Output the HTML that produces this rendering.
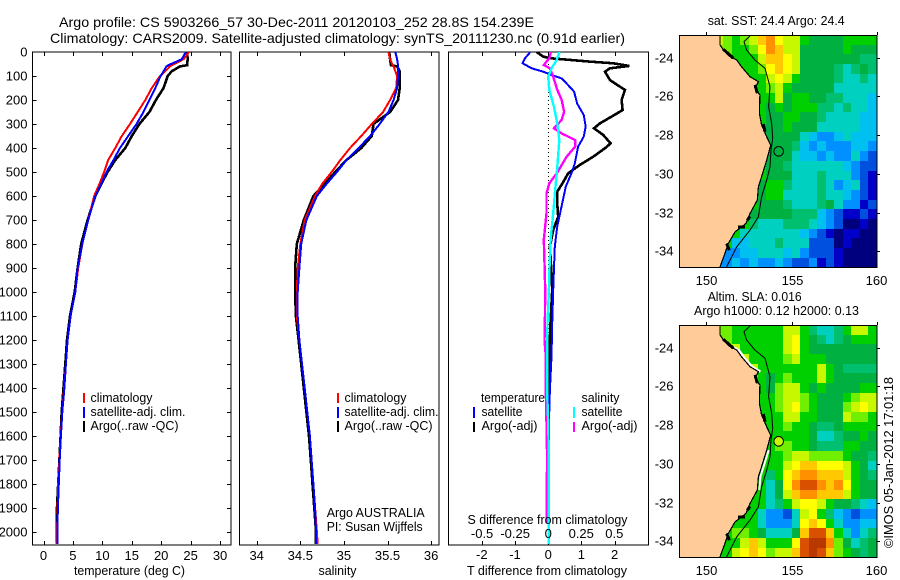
<!DOCTYPE html>
<html>
<head>
<meta charset="utf-8">
<title>Argo profile</title>
<style>
html,body{margin:0;padding:0;background:#fff;}
svg{display:block;}
text{font-family:"Liberation Sans",sans-serif;font-size:13px;fill:#000;}
</style>
</head>
<body>
<svg id="chart" width="900" height="580" viewBox="0 0 900 580" xmlns="http://www.w3.org/2000/svg"></svg>
<script>
const profileDepths = [0,30,55,60,80,100,150,200,250,300,350,400,450,500,550,600,700,800,900,1000,1100,1200,1300,1400,1500,1600,1700,1800,1900,2000,2050];
const tempClim = [24.7,23.8,21.8,21.5,20.7,19.8,18.4,17.3,16.0,14.7,13.3,12.2,11.0,10.3,9.5,8.6,7.6,6.6,5.9,5.4,4.6,4.1,3.8,3.5,3.2,2.9,2.7,2.5,2.4,2.3,2.25];
const tempSat = [24.2,23.5,21.2,20.9,20.4,19.9,19.0,18.0,17.0,15.8,14.4,13.0,11.9,10.7,9.8,8.8,7.6,6.6,5.8,5.4,4.6,4.1,3.8,3.55,3.2,2.95,2.75,2.6,2.45,2.35,2.35];
const tempArgo = [24.4,24.5,24.4,23.2,21.8,21.1,20.4,19.1,18.0,16.3,15.0,13.9,12.2,10.9,9.8,8.8,7.5,6.4,5.8,5.3,4.5,4.0,3.7,3.4,3.1,2.9,2.7,2.5,2.3,2.3,2.3];
const salClim = [35.51,35.53,35.56,35.57,35.59,35.61,35.60,35.53,35.45,35.32,35.20,35.07,34.96,34.86,34.75,34.67,34.55,34.50,34.47,34.46,34.46,34.49,34.52,34.55,34.58,34.61,34.63,34.65,34.67,34.69,34.70];
const salSat = [35.59,35.61,35.62,35.62,35.62,35.62,35.61,35.57,35.51,35.41,35.30,35.17,35.03,34.92,34.80,34.69,34.57,34.51,34.49,34.47,34.47,34.49,34.52,34.55,34.58,34.61,34.63,34.65,34.67,34.68,34.68];
const salArgo = [35.52,35.53,35.54,35.61,35.64,35.64,35.64,35.62,35.53,35.34,35.32,35.20,35.03,34.90,34.78,34.65,34.54,34.46,34.44,34.44,34.45,34.48,34.51,34.54,34.57,34.60,34.62,34.64,34.66,34.68,34.68];

const tSatDepths = [0,6,26,47,68,82,96,110,131,165,214,262,311,353,394,464,506,561,644,728,811,922,992,1131,1269,1408,1547,1964,2050];
const tSatDiff = [-0.55,-0.57,-0.70,-0.77,-0.50,-0.15,0.10,0.40,0.55,0.78,0.87,1.07,1.13,1.07,0.90,0.80,0.70,0.53,0.40,0.27,0.20,0.17,0.15,0.12,0.10,0.05,0.02,0.03,0.03];
const tArgoDepths = [0,19,26,40,47,58,68,82,117,158,200,242,269,297,318,346,381,401,436,471,506,547,582,631,686,742,811,922,992,1131,1269,1408,1547,1964];
const tArgoDiff = [-0.35,-0.15,0.05,1.25,1.96,2.44,1.86,1.71,1.86,2.31,2.21,2.24,1.91,1.56,1.38,1.66,1.88,1.71,1.36,0.95,0.60,0.43,0.27,0.27,0.30,0.15,0.05,0.10,0.12,0.07,0.03,0.03,0.01,0.01];
const sSatDepths = [0,6,33,68,103,158,228,297,367,478,589,672,783,922,992,1131,1269,1408,1547,1686,1964,2050];
const sSatDiff = [0.085,0.082,0.064,0.026,0,0.008,0.043,0.069,0.084,0.069,0.051,0.038,0.018,0.008,0.005,-0.005,-0.008,-0.008,0,0.005,0.003,0.003];
const sArgoDepths = [0,6,26,54,68,103,158,200,249,283,318,339,367,394,436,506,547,589,672,783,922,992,1131,1200,1269,1408,1547,1686,1964];
const sArgoDiff = [0.02,0.018,0.008,-0.033,0.013,0.038,0.069,0.102,0.12,0.102,0.043,0.102,0.204,0.204,0.14,0.064,0.008,-0.013,-0.013,-0.033,-0.026,-0.023,-0.025,-0.028,-0.018,-0.018,-0.013,-0.008,-0.013];

const depthTicks = [0,100,200,300,400,500,600,700,800,900,1000,1100,1200,1300,1400,1500,1600,1700,1800,1900,2000];
const tempTicks = [0,5,10,15,20,25,30];
const salTicks = [34,34.5,35,35.5,36];
const tDiffTicks = [-2,-1,0,1,2];
const sDiffTicks = [-0.5,-0.25,0,0.25,0.5];
const lonTicks = [150,155,160];
const latTicks = [-24,-26,-28,-30,-32,-34];

const sstLevels = [
[10,9,8,9,10,12,13,11,10,10,8,7,7,7,7,8,8,8,8],
[9,9,8,8,9,11,13,12,10,10,7,7,7,7,7,8,7,7,7],
[8,8,8,8,8,10,12,12,11,10,7,7,7,7,7,7,7,6,6],
[8,8,8,8,8,9,11,12,11,10,7,7,7,7,6,5,6,7,6],
[8,8,8,8,8,8,10,11,10,8,7,7,7,7,6,5,5,6,5],
[8,8,8,8,8,8,9,10,8,7,7,7,7,7,5,5,5,5,5],
[8,8,8,8,8,8,8,10,7,8,8,7,7,6,6,5,5,5,4],
[8,8,8,8,8,8,7,8,7,8,8,8,6,6,5,6,5,5,4],
[8,8,8,8,8,8,7,7,8,8,7,7,6,5,5,5,5,4,4],
[8,8,8,8,8,8,7,7,8,7,7,7,5,5,5,5,5,4,4],
[8,8,8,8,8,8,7,7,7,7,5,4,3,3,4,5,4,4,4],
[8,8,8,8,8,8,7,7,7,6,4,3,4,3,3,3,4,4,3],
[8,8,8,8,8,8,7,7,7,5,4,4,3,4,3,3,5,3,2],
[8,8,8,8,8,8,7,7,6,5,5,5,5,5,5,4,3,2,2],
[8,8,8,8,8,8,7,7,7,5,5,5,6,5,5,5,3,2,1],
[8,8,8,8,8,7,8,8,6,5,5,5,6,5,3,4,5,2,1],
[8,8,8,8,8,7,8,8,5,5,5,5,6,5,5,4,3,2,1],
[8,8,8,8,8,7,7,7,6,5,5,5,6,7,5,3,3,1,2],
[8,8,8,8,7,7,7,7,7,6,6,6,4,3,2,1,1,2,1],
[8,8,8,8,6,5,5,5,6,6,6,5,4,3,2,0,0,1,0],
[8,8,8,5,5,5,5,5,5,5,4,3,2,1,0,1,1,0,0],
[8,8,4,4,5,5,5,6,5,5,5,2,2,2,0,1,0,0,0],
[8,3,3,4,4,5,5,5,4,5,3,2,2,2,1,0,0,0,0],
[3,3,4,3,4,3,3,4,3,2,2,3,1,2,1,0,0,0,0]
];
const slaLevels = [
[9,9,8,8,8,8,8,8,10,10,8,6,5,5,6,8,10,10,8],
[9,9,8,8,8,8,8,8,10,11,8,7,6,5,6,7,8,8,8],
[9,9,10,8,8,8,8,8,10,11,8,7,7,7,7,7,7,7,7],
[9,9,10,10,8,8,8,8,9,10,8,8,8,7,7,7,7,7,7],
[9,9,10,10,10,8,8,8,8,8,8,8,10,8,7,6,6,6,6],
[9,9,9,9,9,8,7,8,9,8,8,8,10,8,7,7,7,7,7],
[8,8,8,8,8,8,7,9,10,10,8,7,8,7,7,7,7,8,8],
[8,8,8,8,8,8,8,9,10,10,9,8,7,7,7,8,9,10,10],
[8,8,8,8,8,8,8,9,10,11,9,8,7,7,7,9,10,11,10],
[8,8,8,8,8,8,8,8,10,10,8,8,7,7,7,10,9,9,8],
[8,8,8,8,8,8,8,8,9,8,8,7,6,6,7,8,8,8,8],
[8,8,8,8,8,8,8,8,8,8,8,7,5,5,6,7,7,8,7],
[8,8,8,8,8,8,8,9,9,8,8,7,6,6,6,8,8,7,7],
[8,8,8,8,8,8,8,8,9,10,10,9,9,9,9,8,7,7,6],
[8,8,8,8,8,8,8,8,10,11,12,12,11,11,11,10,8,7,5],
[8,8,8,8,7,8,6,8,11,12,13,13,12,12,12,10,8,7,6],
[8,8,8,8,7,8,5,7,11,13,14,14,13,12,13,11,8,7,7],
[8,8,8,8,8,8,5,7,10,12,13,13,12,12,12,10,8,7,7],
[8,8,8,8,8,8,5,6,8,10,11,11,10,8,7,7,6,5,4],
[8,8,8,8,8,5,3,3,2,5,10,11,8,6,4,3,2,3,3],
[8,8,8,8,8,5,3,3,3,5,11,12,11,8,5,3,3,4,4],
[8,8,9,9,8,7,5,5,5,7,12,14,14,12,8,5,3,5,6],
[8,8,8,10,12,10,8,8,8,11,14,15,15,13,9,7,5,6,7],
[8,8,10,11,12,11,9,10,10,12,14,15,14,12,9,8,7,6,7]
];
const coastLons = [150.80,150.80,151.00,151.39,151.78,152.07,152.56,153.05,152.85,153.14,153.11,153.24,153.54,153.77,153.54,153.30,153.05,152.99,152.56,152.32,151.68,151.29,151.09,150.80];
const coastLats = [-22.83,-23.34,-23.60,-23.95,-24.12,-24.47,-24.98,-25.24,-25.59,-25.93,-26.88,-27.48,-28.09,-28.52,-29.29,-29.98,-30.67,-31.36,-32.05,-32.57,-33.00,-33.60,-34.12,-34.81];
const thickCoastLon1 = [151.00,152.85,153.34,151.87,151.19,152.40];
const thickCoastLat1 = [-23.57,-25.41,-27.43,-32.74,-33.60,-32.40];
const thickCoastLon2 = [151.59,152.99,153.44,152.27,151.35,152.56];
const thickCoastLat2 = [-24.03,-25.84,-27.83,-32.74,-33.95,-32.20];
const isobathLons = [152.56,152.21,152.36,152.85,153.44,153.73,153.65,153.83,153.89,153.79,153.73,153.54,153.24,153.05,152.56,151.78,151.19];
const isobathLats = [-22.88,-23.17,-23.60,-24.12,-24.55,-25.50,-26.53,-27.40,-28.17,-28.78,-29.64,-30.33,-31.19,-32.22,-32.91,-33.78,-34.81];
const argoLon = 154.239;
const argoLat = -28.84;
const palette = ['#00007f','#0000c8','#0050e0','#0090ff','#00c0f0','#00d0c0','#00c070','#00b040','#00d000','#70f000','#c8f800','#ffff00','#ffc800','#ff9000','#d85000','#b83800'];

const svg = document.getElementById('chart');
const NS = 'http://www.w3.org/2000/svg';
function mk(tag, parent, attrs) {
  const el = document.createElementNS(NS, tag);
  for (const k in attrs) el.setAttribute(k, attrs[k]);
  parent.appendChild(el);
  return el;
}
function label(parent, name, str, x, y, anchor, len, size) {
  const el = mk('text', parent, {x: x, y: y, 'text-anchor': anchor || 'start'});
  if (len) { el.setAttribute('textLength', len); el.setAttribute('lengthAdjust', 'spacingAndGlyphs'); }
  if (size) el.style.fontSize = size + 'px';
  el.textContent = str;
  
  
  return el;
}
function seg(parent, name, x1, y1, x2, y2, color, w) {
  const el = mk('line', parent, {x1: x1, y1: y1, x2: x2, y2: y2, stroke: color || '#000', 'stroke-width': w || 1, 'shape-rendering': 'crispEdges'});
  
  
  return el;
}
function group(parent, name) {
  const el = mk('g', parent, {});
  
  
  return el;
}

const TOP = 52, BOTTOM = 545;
const depthY = d => TOP + d * 0.24;
const tempX = t => 43.5 + t * 5.885;
const salX = s => 256.7 + (s - 34) * 87.2;
const tDiffX = t => 548.2 + t * 33.2;
const sDiffX = s => 548.2 + s * 132.2;

label(svg, 'chart-title-line-1', 'Argo profile: CS 5903266_57 30-Dec-2011 20120103_252 28.8S 154.239E', 59, 27, 'start', 475, 14);
label(svg, 'chart-title-line-2', 'Climatology: CARS2009. Satellite-adjusted climatology: synTS_20111230.nc (0.91d earlier)', 50, 43, 'start', 575, 14);

const defs = mk('defs', svg, {});
function clip(id, x, y, w, h) {
  const c = mk('clipPath', defs, {id: id});
  mk('rect', c, {x: x, y: y, width: w, height: h});
}
clip('clip-temp', 32.5, TOP, 198.5, BOTTOM - TOP);
clip('clip-sal', 239.5, TOP, 199.5, BOTTOM - TOP);
clip('clip-diff', 448.5, TOP, 200, BOTTOM - TOP);

function panelFrame(name, x, w) {
  const g = group(svg, name);
  const r = mk('rect', g, {x: x, y: TOP, width: w, height: BOTTOM - TOP, fill: '#fff', stroke: '#000', 'stroke-width': 1, 'shape-rendering': 'crispEdges'});
  
  
  return g;
}
function xTicks(g, ticks, scale, prefix) {
  ticks.forEach(v => {
    const x = Math.round(scale(v)) + 0.5;
    seg(g, prefix + '-tick-top', x, TOP, x, TOP + 4);
    seg(g, prefix + '-tick-bottom', x, BOTTOM - 4, x, BOTTOM);
  });
}
function series(g, name, depths, values, scale, color, width, clipId) {
  const pts = depths.map((d, i) => scale(values[i]).toFixed(1) + ',' + depthY(d).toFixed(1)).join(' ');
  const el = mk('polyline', g, {points: pts, fill: 'none', stroke: color, 'stroke-width': width, 'stroke-linejoin': 'miter', 'shape-rendering': 'crispEdges', 'clip-path': 'url(#' + clipId + ')'});
  
  
  return el;
}
function legendDash(g, name, x, y1, y2, color) {
  seg(g, name, x, y1, x, y2, color, 2);
}

/* temperature panel */
const pT = panelFrame('temperature-panel', 32.5, 198.5);
depthTicks.forEach(d => {
  const y = Math.round(depthY(d)) + 0.5;
  if (d > 0) {
    seg(pT, 'depth-tick-left', 32.5, y, 36.5, y);
    seg(pT, 'depth-tick-right', 227, y, 231, y);
  }
  label(pT, 'depth-tick-label', String(d), 27.5, y + 4, 'end');
});
xTicks(pT, tempTicks, tempX, 'temperature');
tempTicks.forEach(t => label(pT, 'temperature-tick-label', String(t), tempX(t), 560, 'middle'));
label(pT, 'temperature-axis-title', 'temperature (deg C)', 129.5, 575, 'middle', 111);
series(pT, 'temperature-argo-line', profileDepths, tempArgo, tempX, '#000', 2.6, 'clip-temp');
series(pT, 'temperature-climatology-line', profileDepths, tempClim, tempX, '#ff0000', 2, 'clip-temp');
series(pT, 'temperature-satellite-line', profileDepths, tempSat, tempX, '#0000ff', 2, 'clip-temp');
legendDash(pT, 'legend-climatology-dash', 84, 393, 403, '#f00');
legendDash(pT, 'legend-satellite-dash', 84, 407, 418, '#00f');
legendDash(pT, 'legend-argo-dash', 84, 421, 432, '#000');
label(pT, 'legend-climatology', 'climatology', 90.5, 402, 'start', 62);
label(pT, 'legend-satellite', 'satellite-adj. clim.', 90.5, 416, 'start', 95);
label(pT, 'legend-argo', 'Argo(..raw -QC)', 90.5, 430, 'start', 88);

/* salinity panel */
const pS = panelFrame('salinity-panel', 239.5, 199.5);
xTicks(pS, salTicks, salX, 'salinity');
salTicks.forEach(s => label(pS, 'salinity-tick-label', String(s), salX(s), 560, 'middle'));
label(pS, 'salinity-axis-title', 'salinity', 337.5, 575, 'middle', 38);
series(pS, 'salinity-argo-line', profileDepths, salArgo, salX, '#000', 2.6, 'clip-sal');
series(pS, 'salinity-climatology-line', profileDepths, salClim, salX, '#ff0000', 2, 'clip-sal');
series(pS, 'salinity-satellite-line', profileDepths, salSat, salX, '#0000ff', 2, 'clip-sal');
legendDash(pS, 'legend-climatology-dash', 338, 393, 403, '#f00');
legendDash(pS, 'legend-satellite-dash', 338, 407, 418, '#00f');
legendDash(pS, 'legend-argo-dash', 338, 421, 432, '#000');
label(pS, 'legend-climatology', 'climatology', 344.5, 402, 'start', 62);
label(pS, 'legend-satellite', 'satellite-adj. clim.', 344.5, 416, 'start', 94);
label(pS, 'legend-argo', 'Argo(..raw -QC)', 344.5, 430, 'start', 88);
label(pS, 'argo-program-label', 'Argo AUSTRALIA', 326.7, 517, 'start', 98);
label(pS, 'principal-investigator-label', 'PI: Susan Wijffels', 326.7, 531, 'start', 96);

/* difference panel */
const pD = panelFrame('difference-panel', 448.5, 200);
xTicks(pD, tDiffTicks, tDiffX, 'temperature-difference');
const zero = seg(pD, 'zero-difference-line', 548.5, TOP, 548.5, BOTTOM, '#000', 1);
zero.setAttribute('stroke-dasharray', '1 3');
series(pD, 'temperature-argo-difference-line', tArgoDepths, tArgoDiff, tDiffX, '#000', 2.6, 'clip-diff');
series(pD, 'temperature-satellite-difference-line', tSatDepths, tSatDiff, tDiffX, '#0000ff', 2, 'clip-diff');
series(pD, 'salinity-argo-difference-line', sArgoDepths, sArgoDiff, sDiffX, '#ff00ff', 2.4, 'clip-diff');
series(pD, 'salinity-satellite-difference-line', sSatDepths, sSatDiff, sDiffX, '#00ffff', 2.4, 'clip-diff');
label(pD, 'legend-temperature-header', 'temperature', 481, 402, 'start', 64);
label(pD, 'legend-salinity-header', 'salinity', 581.5, 402, 'start', 38);
legendDash(pD, 'legend-temperature-satellite-dash', 474, 407, 418, '#00f');
legendDash(pD, 'legend-temperature-argo-dash', 474, 422, 432, '#000');
legendDash(pD, 'legend-salinity-satellite-dash', 574, 407, 418, '#0ff');
legendDash(pD, 'legend-salinity-argo-dash', 574, 422, 432, '#f0f');
label(pD, 'legend-temperature-satellite', 'satellite', 481.5, 416, 'start', 41);
label(pD, 'legend-temperature-argo', 'Argo(-adj)', 481.5, 430, 'start', 56);
label(pD, 'legend-salinity-satellite', 'satellite', 581.5, 416, 'start', 41);
label(pD, 'legend-salinity-argo', 'Argo(-adj)', 581.5, 430, 'start', 56);
label(pD, 's-difference-axis-title', 'S difference from climatology', 547.5, 524, 'middle', 160);
sDiffTicks.forEach(s => label(pD, 's-difference-tick-label', String(s), sDiffX(s), 538, 'middle'));
tDiffTicks.forEach(t => label(pD, 't-difference-tick-label', String(t), tDiffX(t), 559, 'middle'));
label(pD, 't-difference-axis-title', 'T difference from climatology', 547, 575, 'middle', 160);

/* maps */
const mapLeft = 679.5, mapRight = 877;
const lonX = lon => 706.3 + (lon - 150) * 17.07;
function drawMap(name, mapTop, levels, markerLevel, sliver) {
  const mapBottom = mapTop + 232;
  const latY = lat => mapTop + 22.7 + (-24 - lat) * 19.35;
  const g = group(svg, name);
  const bg = mk('rect', g, {x: mapLeft, y: mapTop, width: mapRight - mapLeft, height: 232, fill: '#ffcc99', 'shape-rendering': 'crispEdges'});
  
  
  const cells = group(g, name + '-heatmap');
  levels.forEach((row, r) => {
    const latTop = -22.83 - r * 0.5;
    row.forEach((v, c) => {
      const lon0 = 150.5 + c * 0.5;
      const x0 = Math.round(lonX(lon0)), x1 = Math.round(lonX(lon0 + 0.5));
      const y0 = Math.round(latY(latTop)), y1 = Math.min(Math.round(latY(latTop - 0.5)), mapBottom);
      const cell = mk('rect', cells, {x: x0, y: y0, width: x1 - x0, height: y1 - y0, fill: palette[v], 'shape-rendering': 'crispEdges'});
      
      
    });
  });
  if (sliver) {
    const pts = coastLons.map((lon, i) => (lonX(lon) + 2).toFixed(1) + ',' + latY(coastLats[i]).toFixed(1));
    const upper = mk('polyline', g, {points: pts.slice(3, 8).join(' '), fill: 'none', stroke: '#fff', 'stroke-width': 2.5});
    
    
    const lower = mk('polyline', g, {points: pts.slice(14, 18).join(' '), fill: 'none', stroke: '#fff', 'stroke-width': 2});
    
    
  }
  const landPts = [[mapLeft, mapTop]].concat(coastLons.map((lon, i) => [lonX(lon), latY(coastLats[i])]));
  landPts.push([lonX(150.8), mapBottom], [mapLeft, mapBottom]);
  const land = mk('polygon', g, {points: landPts.map(p => p[0].toFixed(1) + ',' + p[1].toFixed(1)).join(' '), fill: '#ffcc99'});
  
  
  const coast = mk('polyline', g, {points: coastLons.map((lon, i) => lonX(lon).toFixed(1) + ',' + latY(coastLats[i]).toFixed(1)).join(' '), fill: 'none', stroke: '#000', 'stroke-width': 1.2, 'shape-rendering': 'crispEdges'});
  
  
  thickCoastLon1.forEach((lon, i) => {
    seg(g, name + '-coast-inlet', lonX(lon), latY(thickCoastLat1[i]), lonX(thickCoastLon2[i]), latY(thickCoastLat2[i]), '#000', 3);
  });
  const iso = mk('polyline', g, {points: isobathLons.map((lon, i) => lonX(lon).toFixed(1) + ',' + latY(isobathLats[i]).toFixed(1)).join(' '), fill: 'none', stroke: '#000', 'stroke-width': 1});
  
  
  const marker = mk('circle', g, {cx: lonX(argoLon), cy: latY(argoLat), r: 4.8, fill: palette[markerLevel], stroke: '#000', 'stroke-width': 1});
  
  
  const frame = mk('rect', g, {x: mapLeft, y: mapTop + 0.5, width: mapRight - mapLeft, height: 232, fill: 'none', stroke: '#000', 'stroke-width': 1, 'shape-rendering': 'crispEdges'});
  
  
  lonTicks.forEach(lon => {
    const x = Math.round(lonX(lon)) + 0.5;
    seg(g, name + '-longitude-tick', x, mapTop - 3, x, mapTop);
    label(g, name + '-longitude-label', String(lon), lon === 160 ? x - 1 : x, mapTop + 250, 'middle');
  });
  latTicks.forEach(lat => {
    const y = Math.round(latY(lat)) + 0.5;
    seg(g, name + '-latitude-tick', mapRight, y, mapRight + 3, y);
    label(g, name + '-latitude-label', String(lat), 673.5, y + 4, 'end');
  });
}
drawMap('sst-map', 35, sstLevels, 7, false);
drawMap('sla-map', 325, slaLevels, 10, true);
label(svg, 'sst-map-title', 'sat. SST: 24.4  Argo: 24.4', 707.7, 25, 'start', 137);
label(svg, 'sla-map-title-line-1', 'Altim. SLA: 0.016', 707.7, 301, 'start', 94);
label(svg, 'sla-map-title-line-2', 'Argo h1000: 0.12 h2000: 0.13', 694, 315, 'start', 165);
const stamp = label(svg, 'imos-timestamp', '©IMOS 05-Jan-2012 17:01:18', 0, 0, 'start', 171);
stamp.setAttribute('transform', 'translate(893 548) rotate(-90)');
</script>
</body>
</html>
